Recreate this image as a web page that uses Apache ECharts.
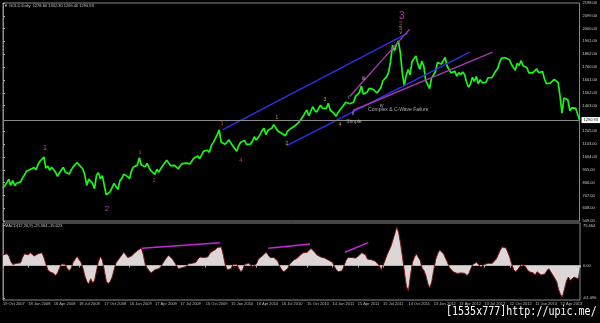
<!DOCTYPE html>
<html>
<head>
<meta charset="utf-8">
<script src="https://cdn.jsdelivr.net/npm/echarts@6/dist/echarts.min.js"></script>
<style>
html,body{margin:0;padding:0;background:#000;}
#c{width:600px;height:323px;}
</style>
</head>
<body>
<div id="c"></div>
<script>
// ---- DATA (weekly readings, index 0 = 19 Oct 2007) ----
const priceValues = [
765,785,806,833,785,823,783,802,797,812,842,
863,895,880,908,909,923,906,948,972,973,1005,918,935,903,925,915,886,855,883,896,925,887,902,873,903,928,932,962,957,928,912,865,785,833,833,800,760,865,883,835,860,785,712,720,735,745,800,815,752,820,838,872,
878,853,837,900,928,913,942,1000,943,940,930,955,923,897,883,870,910,887,915,930,958,980,960,938,937,940,930,912,937,953,955,957,948,952,955,995,1006,1013,992,1003,1050,1052,1057,1041,1095,1118,1147,1178,1215,1120,1111,1104,
1096,1138,1130,1090,1083,1050,1092,1119,1118,1133,1102,1105,1104,1125,1162,1136,1156,1180,1209,1228,1177,1212,1219,1228,1256,1256,1208,1210,1189,1189,1170,1204,1215,1228,1237,1247,1246,1275,1297,1318,1345,1369,1325,1357,1394,1368,1352,1364,1406,1384,1377,1380,1421,
1369,1360,1342,1320,1349,1361,1388,1409,1429,1421,1418,1428,1429,1474,1486,1504,1556,1491,1493,1509,1536,1542,1529,1539,1501,1486,1542,1594,1601,1628,1663,1747,1870,1828,1876,1905,1812,1657,1560,1636,1682,1642,1745,1754,1788,1724,1685,1747,1712,1598,1606,1535,
1616,1640,1665,1736,1726,1725,1725,1776,1710,1712,1657,1662,1668,1632,1659,1642,1663,1643,1584,1545,1572,1622,1590,1628,1572,1604,1579,1589,1584,1619,1604,1620,1616,1672,1691,1740,1772,1773,1773,1780,1758,1724,1712,1676,1731,1714,1751,1712,1701,1696,1657,1657,
1656,1661,1687,1659,1667,1667,1609,1573,1576,1577,1592,1607,1596,1581,1476,1345,1462,1470,1448,1364,1386,1392,1383,1387,1290.93
];
const macdValues = [
20,23,22,18,8,2,3,4,3,5,15,22,25,20,24,22,18,19,22,25,
24,15,3,-8,-12,-10,-15,-19,-14,-5,3,5,2,-6,-10,-5,6,12,17,14,
6,-5,-20,-30,-35,-25,-33,-28,-10,8,17,10,-10,-30,-34,-30,-22,-8,5,10,
12,20,25,22,15,14,18,22,25,28,31,33,20,2,-5,-10,-14,-12,-8,-10,
-6,-2,4,10,15,19,18,12,6,0,-6,-7,-4,-6,-2,3,5,4,2,6,
12,16,14,15,12,16,22,26,25,30,34,37,35,20,2,-8,-10,-6,2,4,
2,-6,-12,-8,2,5,4,2,-2,-3,3,12,15,18,21,25,20,15,16,15,
14,8,-2,-8,-12,-13,-6,2,6,10,9,14,18,20,24,26,25,28,32,30,
25,20,18,16,14,14,12,10,8,6,-2,-8,-12,-15,-10,0,10,15,13,15,
18,14,16,20,24,27,20,12,10,11,8,8,5,0,-8,0,10,20,28,36,
48,60,73,62,40,15,-15,-40,-48,-20,5,15,22,25,10,-5,-10,-20,-35,-42,
-30,-8,12,22,29,26,22,14,6,-4,-8,-12,-10,-15,-12,-14,-17,-15,-19,-15,
-6,2,5,6,3,-3,-2,2,3,4,5,4,6,12,20,28,35,38,33,25,
15,2,-8,-12,-8,-3,2,3,-2,-8,-12,-10,-14,-18,-12,-15,-18,-20,-16,-10,
-6,-12,-18,-20,-30,-45,-55,-59,-45,-30,-22,-28,-26,-22,-20,-25,-25.584
];
const dateTicks = ['19 Oct 2007','18 Jan 2008','18 Apr 2008','18 Jul 2008','17 Oct 2008','16 Jan 2009','17 Apr 2009','17 Jul 2009','16 Oct 2009','15 Jan 2010','16 Apr 2010','16 Jul 2010','15 Oct 2010','14 Jan 2011','15 Apr 2011','15 Jul 2011','14 Oct 2011','13 Jan 2012','13 Apr 2012','13 Jul 2012','12 Oct 2012','11 Jan 2013','12 Apr 2013'];
const priceTicks = [509,608,707,806,905,1004,1103,1205,1403,1502,1601,1700,1802,1901,2000,2099,2198];
const macdTicks = [75.464, 0, -61.096];
const lastPrice = 1290.93;
const headerText = 'GOLD,Daily  1278.60 1302.30 1269.40 1290.93';
const macdHeader = 'MACD(12,26,9) -25.584 -15.623';
// wave labels: [text, week index, price, degree]
const waveLabels = [
 ['1',21.5,1077,'primary'],['2',53.4,602,'primary'],['3',204.7,2097,'primaryBig'],
 ['1',70.3,1038,'inter'],['2',77.5,820,'inter'],['3',112.3,1264,'inter'],['4',122.1,976,'inter'],['5',204.2,2042,'inter'],
 ['1',140.6,1311,'minor'],['2',145.7,1108,'minor'],['3',165.2,1451,'minor'],['4',172.9,1256,'minor'],['5',204.2,2003,'minor'],
 ['i',177.5,1466,'minute'],['ii',179.6,1342,'minute'],['iii',185.2,1614,'minute'],['iv',194.4,1404,'minute'],['v',204.2,1965,'minute']
];
const noteLabels = [['Simple',176.0,1276],['Complex & C-Wave Failure',187.2,1369]];
const priceLines = {
  upperBlue:[[112.9,1217.3],[207.8,1964.5]],
  lowerBlue:[[145.7,1092.8],[239.6,1816.6]],
  magentaLower:[[179.6,1365.2],[251.4,1816.6]],
  magentaUpper:[[178.0,1474.2],[208.8,1995.6]]
};
const macdLines = [
  [[71.2,32.4],[111.3,42.9]],
  [[136.1,32.4],[157.5,40.5]],
  [[175.4,24.9],[187.4,42.9]]
];

// ---- STYLES ----
const degreeStyle = {
  primary:{color:'#f038f0',size:8},
  primaryBig:{color:'#f038f0',size:10},
  inter:{color:'#e0603a',size:5.5},
  minor:{color:'#d8c870',size:5},
  minute:{color:'#d8d8f0',size:5}
};
const lineColors = {upperBlue:'#2f2fe8',lowerBlue:'#2f2fe8',magentaLower:'#a038b0',magentaUpper:'#a038b0'};
const font = 'Liberation Sans';

const N = priceValues.length - 1;
const pricePairs = priceValues.map((v,i)=>[i,v]);
const macdPairs = macdValues.map((v,i)=>[i,v]);

const series = [];
series.push({
  type:'line', xAxisIndex:0, yAxisIndex:0, data:pricePairs, symbol:'none',
  lineStyle:{color:'#18f818',width:1.7}, z:3,
  markLine:{symbol:'none', silent:true, data:[{yAxis:lastPrice}],
    lineStyle:{color:'#8a8a8a',type:'solid',width:1},
    label:{position:'end',formatter:lastPrice.toFixed(2),backgroundColor:'#ffffff',color:'#000',fontSize:4,fontFamily:font,padding:[1,2],distance:2}}
});
Object.keys(priceLines).forEach(k=>{
  series.push({type:'line',xAxisIndex:0,yAxisIndex:0,data:priceLines[k],symbol:'none',silent:true,
    lineStyle:{color:lineColors[k],width:1.4},z:4});
});
series.push({
  type:'scatter', xAxisIndex:0, yAxisIndex:0, symbolSize:1, silent:true, z:6,
  itemStyle:{color:'rgba(0,0,0,0)'},
  data: waveLabels.map(w=>({value:[w[1],w[2]], label:{show:true,formatter:w[0],position:'inside',
     color:degreeStyle[w[3]].color,fontSize:degreeStyle[w[3]].size,fontFamily:font}}))
});
series.push({
  type:'scatter', xAxisIndex:0, yAxisIndex:0, symbolSize:1, silent:true, z:6,
  itemStyle:{color:'rgba(0,0,0,0)'},
  data: noteLabels.map(w=>({value:[w[1],w[2]], label:{show:true,formatter:w[0],position:'right',distance:0,
     color:'#d0d0d0',fontSize:5,fontFamily:font}}))
});
series.push({
  type:'line', xAxisIndex:1, yAxisIndex:1, data:macdPairs, symbol:'none',
  lineStyle:{color:'#7a1414',width:1}, areaStyle:{color:'#dcd6d6',opacity:1}, z:3
});
macdLines.forEach(l=>{
  series.push({type:'line',xAxisIndex:1,yAxisIndex:1,data:l,symbol:'none',silent:true,
    lineStyle:{color:'#c828d8',width:1.4},z:5});
});

const chart = echarts.init(document.getElementById('c'));
chart.setOption({
  animation:false,
  backgroundColor:'#000',
  grid:[
    {left:3,top:3,width:577,height:218,show:true,borderColor:'#8a8a8a',borderWidth:1,backgroundColor:'#000'},
    {left:3,top:223,width:577,height:77,show:true,borderColor:'#8a8a8a',borderWidth:1,backgroundColor:'#000'}
  ],
  xAxis:[
    {type:'value',gridIndex:0,min:0,max:N,show:false,splitLine:{show:false}},
    {type:'value',gridIndex:1,min:0,max:N,interval:13,splitLine:{show:false},
     axisLine:{show:true,lineStyle:{color:'#8a8a8a'}},
     axisTick:{show:true,length:2,lineStyle:{color:'#bbb'}},
     axisLabel:{show:true,fontSize:4,color:'#bbbbbb',fontFamily:font,align:'left',margin:2,
       formatter:v=>dateTicks[Math.round(v/13)]||''}}
  ],
  yAxis:[
    {type:'value',gridIndex:0,position:'right',min:509,max:2198,splitLine:{show:false},
     axisLine:{show:true,lineStyle:{color:'#8a8a8a'}},
     axisTick:{show:true,length:2,customValues:priceTicks,lineStyle:{color:'#aaa'}},
     axisLabel:{show:true,customValues:priceTicks,fontSize:4,color:'#cccccc',fontFamily:font,margin:3,
       formatter:v=>v.toFixed(2)}},
    {type:'value',gridIndex:1,position:'right',min:-65,max:80,splitLine:{show:false},
     axisLine:{show:true,lineStyle:{color:'#8a8a8a'}},
     axisTick:{show:true,length:2,customValues:macdTicks,lineStyle:{color:'#aaa'}},
     axisLabel:{show:true,customValues:macdTicks,fontSize:4,color:'#cccccc',fontFamily:font,margin:3,
       formatter:v=>v===0?'0.00':v.toFixed(3)}}
  ],
  graphic:[
    {type:'text',left:4,top:4,style:{text:'\u25BC '+headerText,fill:'#c8c8c8',font:'4px '+font}},
    {type:'text',left:5,top:224,style:{text:macdHeader,fill:'#c8c8c8',font:'4px '+font}},
    {type:'text',x:446,y:305,scaleX:0.77,style:{text:'[1535x777]http://upic.me/',fill:'#ffffff',font:'13px "DejaVu Sans Mono"',verticalAlign:'top'}}
  ],
  series:series
});
</script>
</body>
</html>
